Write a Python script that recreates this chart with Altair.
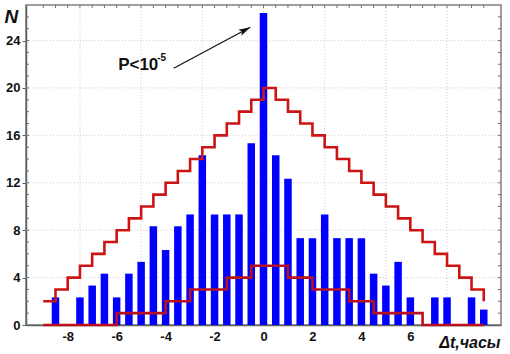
import altair as alt
import pandas as pd

# ---- data ----
bar_x = [-8.5, -7.5, -7.0, -6.5, -6.0, -5.5, -5.0, -4.5, -4.0, -3.5, -3.0, -2.5,
         -2.0, -1.5, -1.0, -0.5, 0.0, 0.5, 1.0, 1.5, 2.0, 2.5, 3.0, 3.5, 4.0, 4.5,
         5.0, 5.5, 6.0, 7.0, 7.5, 8.5, 9.0]
bar_n = [2.33, 2.33, 3.33, 4.33, 2.33, 4.33, 5.33, 8.33, 6.33, 8.33, 9.33, 14.33,
         9.33, 9.33, 9.33, 15.33, 26.33, 14.33, 12.33, 7.33, 7.33, 9.33, 7.33, 7.33,
         7.33, 4.33, 3.33, 5.33, 2.33, 2.33, 2.33, 2.33, 1.3]

upper_x = [-9.0, -8.5, -8.0, -7.5, -7.0, -6.5, -6.0, -5.5, -5.0, -4.5, -4.0, -3.5,
           -3.0, -2.5, -2.0, -1.5, -1.0, -0.5, 0.0, 0.5, 1.0, 1.5, 2.0, 2.5, 3.0,
           3.5, 4.0, 4.5, 5.0, 5.5, 6.0, 6.5, 7.0, 7.5, 8.0, 8.5, 9.0]
upper_n = [2, 3, 4, 5, 6, 7, 8, 9, 10, 11, 12, 13, 14, 15, 16, 17, 18, 19, 20,
           19, 18, 17, 16, 15, 14, 13, 12, 11, 10, 9, 8, 7, 6, 5, 4, 3, 2]

lower_x = [-9.0, -6.0, -4.0, -3.0, -1.5, -0.5, 1.0, 2.0, 3.5, 4.5, 6.5, 9.0]
lower_n = [0, 1, 2, 3, 4, 5, 4, 3, 2, 1, 0, 0]

x_labels = [-8, -6, -4, -2, 0, 2, 4, 6]
y_labels = [0, 4, 8, 12, 16, 20, 24]
x_grid = [-7.5, -5.0, -2.5, 0.0, 2.5, 5.0, 7.5]
y_grid = [4, 8, 12, 16, 20, 24]
x_minor = [-9.0, -8.5, -8.0, -7.5, -7.0, -6.5, -6.0, -5.5, -5.0, -4.5, -4.0, -3.5,
           -3.0, -2.5, -2.0, -1.5, -1.0, -0.5, 0.0, 0.5, 1.0, 1.5, 2.0, 2.5, 3.0,
           3.5, 4.0, 4.5, 5.0, 5.5, 6.0, 6.5, 7.0, 7.5, 8.0, 8.5, 9.0]
y_minor = list(range(1, 27))

ann_text = ["P<10"]
ann_x = [-5.94]
ann_y = [21.52]
sup_text = ["-5"]
sup_x = [-4.34]
sup_y = [22.3]
arrow_x = [-3.67]
arrow_y = [21.66]
arrow_x2 = [-0.54]
arrow_y2 = [25.12]

# ---- scales / axes ----
FONT = "Liberation Sans"
xscale = alt.Scale(domain=[-9.5, 9.5], nice=False, zero=False)
yscale = alt.Scale(domain=[0, 27], nice=False, zero=True)

xaxis = alt.Axis(values=x_labels, ticks=False, grid=False, labelPadding=5,
                 labelExpr="'' + datum.value",
                 labelFont=FONT, labelFontSize=13, labelFontWeight="bold",
                 labelColor="#111111", domainColor="#606060", domainWidth=1.5,
                 title="\u0394t,\u0447\u0430\u0441\u044b", titleFont=FONT,
                 titleFontSize=16, titleFontWeight="bold", titleFontStyle="italic",
                 titleColor="#111111", titleAlign="right", titleBaseline="alphabetic",
                 titleX=474, titleY=22, labelFlush=False)
yaxis = alt.Axis(values=y_labels, tickSize=4, tickColor="#606060", tickWidth=1,
                 grid=False, labelPadding=2, labelFont=FONT, labelFontSize=13,
                 labelFontWeight="bold", labelColor="#111111",
                 domainColor="#606060", domainWidth=1.5,
                 title="N", titleFont=FONT, titleFontSize=19, titleFontWeight="bold",
                 titleFontStyle="italic", titleColor="#111111", titleAngle=0,
                 titleAlign="left", titleBaseline="alphabetic", titleX=-22, titleY=17)


def X(f):
    return alt.X(f, type="quantitative", scale=xscale, axis=xaxis)


def Y(f):
    return alt.Y(f, type="quantitative", scale=yscale, axis=yaxis)


bars_df = pd.DataFrame({"x": bar_x, "n": bar_n})
up_df = pd.DataFrame({"x": upper_x, "n": upper_n})
lo_df = pd.DataFrame({"x": lower_x, "n": lower_n})

vgrid = alt.Chart(pd.DataFrame({"x": x_grid})).mark_rule(
    color="#cfcfcf", strokeDash=[1, 2], strokeWidth=1).encode(x=X("x"))
hgrid = alt.Chart(pd.DataFrame({"n": y_grid})).mark_rule(
    color="#cfcfcf", strokeDash=[1, 2], strokeWidth=1).encode(y=Y("n"))

top_ticks = alt.Chart(pd.DataFrame({"x": x_minor})).mark_rule(
    color="#707070", strokeWidth=1).encode(x=X("x"), y=alt.value(0), y2=alt.value(3))
right_ticks = alt.Chart(pd.DataFrame({"n": y_minor})).mark_rule(
    color="#707070", strokeWidth=1).encode(y=Y("n"), x=alt.value(475), x2=alt.value(472))
left_ticks = alt.Chart(pd.DataFrame({"n": y_minor})).mark_rule(
    color="#707070", strokeWidth=1).encode(y=Y("n"), x=alt.value(0), x2=alt.value(3))

bars = alt.Chart(bars_df).mark_bar(color="#0000ff", size=7.5).encode(
    x=X("x"), y=Y("n"))

RED = "#cc1414"
upper = alt.Chart(up_df).mark_line(color=RED, strokeWidth=2.6,
                                   interpolate="step-after").encode(x=X("x"), y=Y("n"))
lower = alt.Chart(lo_df).mark_line(color="#b8101c", strokeWidth=2.6,
                                   interpolate="step-after").encode(x=X("x"), y=Y("n"))

ann = alt.Chart(pd.DataFrame({"x": ann_x, "n": ann_y, "t": ann_text})).mark_text(
    font=FONT, fontSize=17, fontWeight="bold", align="left", baseline="alphabetic",
    color="#111111").encode(x=X("x"), y=Y("n"), text="t:N")
sup = alt.Chart(pd.DataFrame({"x": sup_x, "n": sup_y, "t": sup_text})).mark_text(
    font=FONT, fontSize=10, fontWeight="bold", align="left", baseline="alphabetic",
    color="#111111").encode(x=X("x"), y=Y("n"), text="t:N")

arrow_line = alt.Chart(pd.DataFrame({"x": arrow_x, "n": arrow_y,
                                     "x2": arrow_x2, "n2": arrow_y2})).mark_rule(
    color="#111111", strokeWidth=1.2).encode(x=X("x"), y=Y("n"), x2="x2", y2="n2")
arrow_head = alt.Chart(pd.DataFrame({"x": arrow_x2, "n": arrow_y2})).mark_point(
    shape="M0,0 L-0.28,1 L0,0.78 L0.28,1 Z", filled=True, color="#111111",
    size=560, angle=62.4, opacity=1, strokeWidth=0).encode(x=X("x"), y=Y("n"))

chart = alt.layer(
    vgrid, hgrid, top_ticks, right_ticks, left_ticks, bars, upper, lower,
    ann, sup, arrow_line, arrow_head
).properties(
    width=475, height=320,
    autosize=alt.AutoSizeParams(type="none"),
    padding={"left": 26, "top": 5, "right": 9, "bottom": 29},
    background="white",
).configure_view(stroke="#808080", strokeWidth=1.5)

chart.save("out.html", embed_options={"renderer": "svg", "actions": False})
